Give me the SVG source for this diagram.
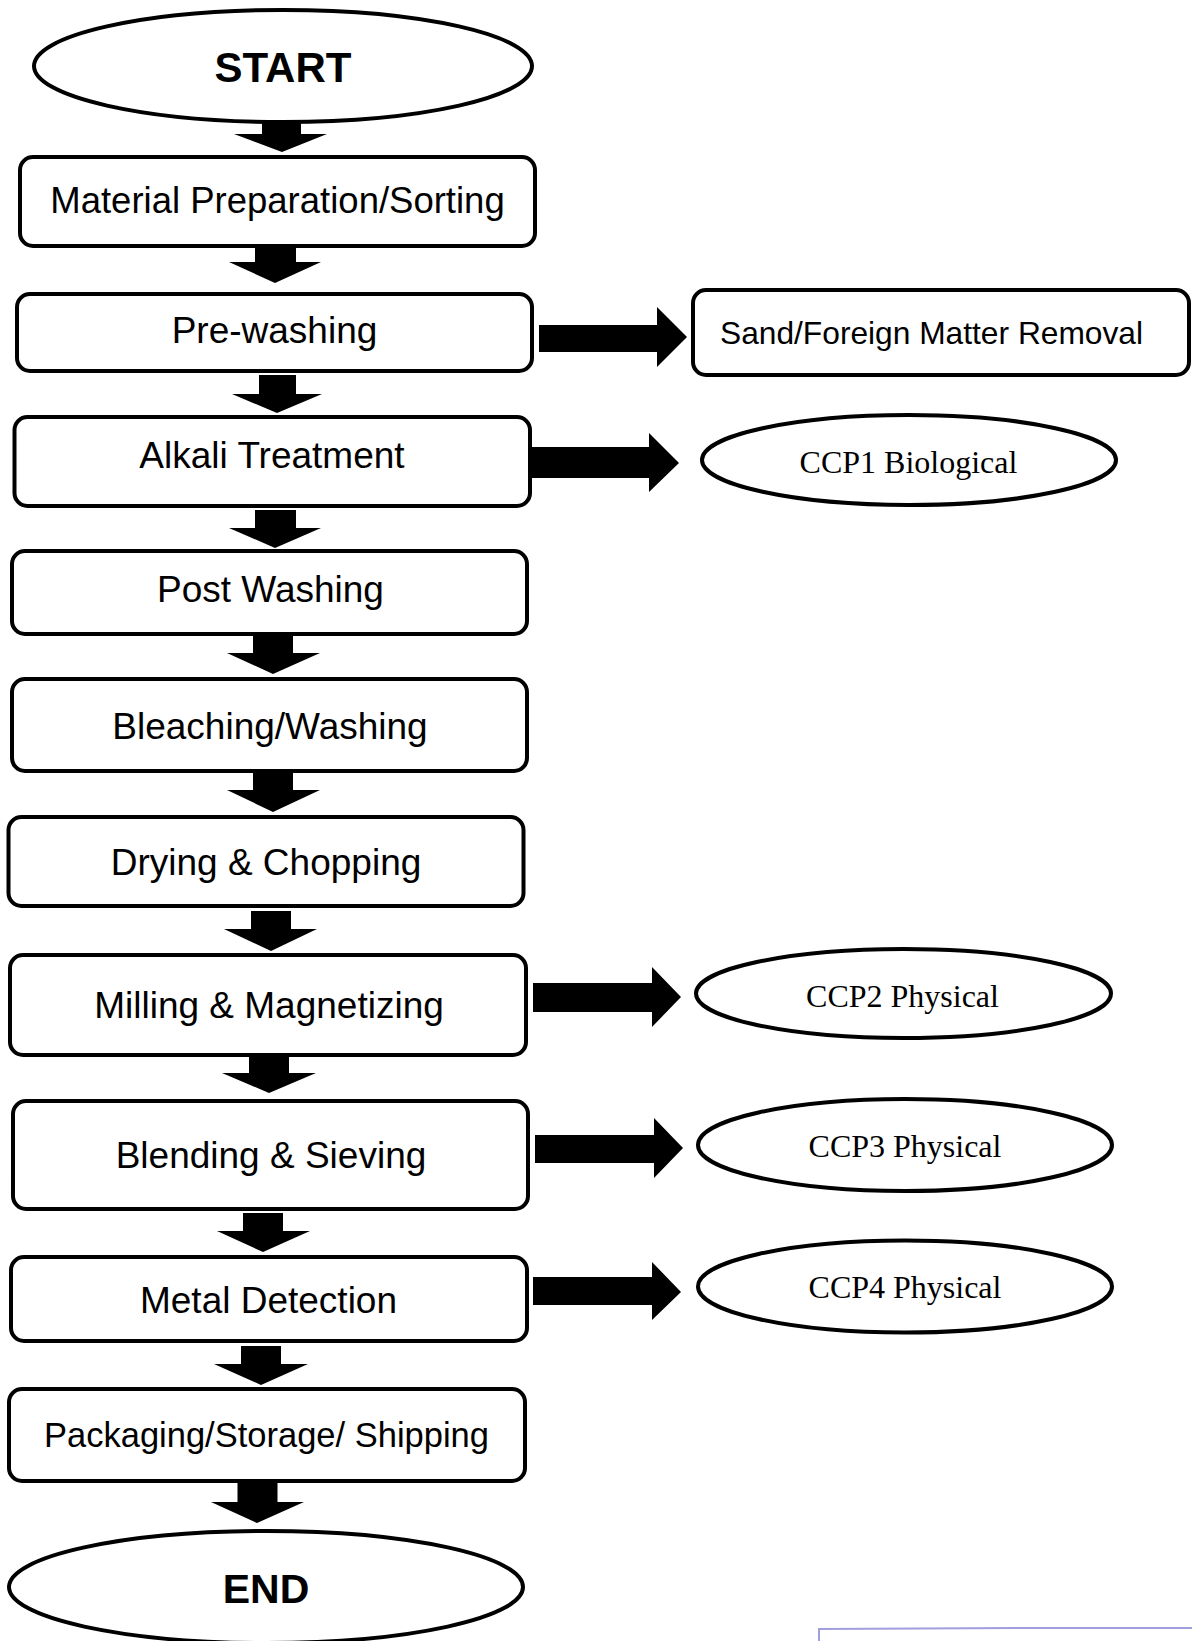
<svg xmlns="http://www.w3.org/2000/svg" width="1192" height="1641" viewBox="0 0 1192 1641">
<style>
.box{fill:#fff;stroke:#000;stroke-width:4}
.oval{fill:#fff;stroke:#000;stroke-width:4}
.t{font-family:"Liberation Sans",Arial,sans-serif;font-size:37px;fill:#000;text-anchor:middle}
.tb{font-family:"Liberation Sans",Arial,sans-serif;font-weight:bold;fill:#000;text-anchor:middle}
.ts{font-family:"Liberation Serif","Times New Roman",serif;font-size:32px;fill:#000;text-anchor:middle}
.arr{fill:#000;stroke:none}
</style>
<rect width="1192" height="1641" fill="#fff"/>
<g id="connectors">
<polygon class="arr" points="262,116 301,116 301,134 327,134 282,152 234,134 262,134"/>
<polygon class="arr" points="255,247 296,247 296,262 321,262 275,283 229,262 255,262"/>
<polygon class="arr" points="259,375 296,375 296,394 322,394 277,413 232,394 259,394"/>
<polygon class="arr" points="255,510 296,510 296,528 321,528 275,548 229,528 255,528"/>
<polygon class="arr" points="253,635 293,635 293,653 320,653 273,674 227,653 253,653"/>
<polygon class="arr" points="253,773 293,773 293,790 320,790 273,812 227,790 253,790"/>
<polygon class="arr" points="251,911 291,911 291,929 317,929 271,951 224,929 251,929"/>
<polygon class="arr" points="249,1056 289,1056 289,1073 316,1073 269,1093 222,1073 249,1073"/>
<polygon class="arr" points="243,1213 283,1213 283,1231 310,1231 263,1252 217,1231 243,1231"/>
<polygon class="arr" points="241,1346 281,1346 281,1364 308,1364 261,1385 214,1364 241,1364"/>
<polygon class="arr" points="237.5,1482 277.5,1482 277.5,1502 304,1502 257,1523 211,1502 237.5,1502"/>
<polygon class="arr" points="539,325 657,325 657,307 687,337 657,367 657,352 539,352"/>
<polygon class="arr" points="532,447 649,447 649,433 679,463 649,492 649,478 532,478"/>
<polygon class="arr" points="533,983 652,983 652,967 681,997 652,1027 652,1012 533,1012"/>
<polygon class="arr" points="535,1135 654,1135 654,1118 683,1148 654,1178 654,1163 535,1163"/>
<polygon class="arr" points="533,1277 652,1277 652,1262 681,1292 652,1320 652,1305 533,1305"/>
</g>
<g id="start"><ellipse class="oval" cx="283" cy="66" rx="249" ry="56"/><text class="tb" x="283" y="82" font-size="42">START</text></g>
<g id="material"><rect class="box" x="20" y="157" width="515" height="89" rx="13"/><text class="t" x="277.5" y="213" style="font-size:36.5px">Material Preparation/Sorting</text></g>
<g id="prewashing"><rect class="box" x="17" y="294" width="515" height="77" rx="13"/><text class="t" x="274.5" y="343">Pre-washing</text></g>
<g id="alkali"><rect class="box" x="14.5" y="417" width="515.5" height="89" rx="13"/><text class="t" x="272" y="468">Alkali Treatment</text></g>
<g id="postwashing"><rect class="box" x="12" y="551" width="515" height="83" rx="13"/><text class="t" x="270.5" y="602">Post Washing</text></g>
<g id="bleaching"><rect class="box" x="12" y="679" width="515" height="92" rx="13"/><text class="t" x="270" y="739">Bleaching/Washing</text></g>
<g id="drying"><rect class="box" x="8.5" y="817" width="515" height="89" rx="13"/><text class="t" x="266" y="875">Drying &amp; Chopping</text></g>
<g id="milling"><rect class="box" x="10" y="955" width="516" height="100" rx="13"/><text class="t" x="269" y="1018">Milling &amp; Magnetizing</text></g>
<g id="blending"><rect class="box" x="13" y="1101" width="515" height="108" rx="13"/><text class="t" x="271" y="1168">Blending &amp; Sieving</text></g>
<g id="metal"><rect class="box" x="11" y="1257" width="516" height="84" rx="13"/><text class="t" x="268.5" y="1313">Metal Detection</text></g>
<g id="packaging"><rect class="box" x="9" y="1389" width="516" height="92" rx="13"/><text class="t" x="266.5" y="1447" style="font-size:34.5px">Packaging/Storage/ Shipping</text></g>
<g id="end"><ellipse class="oval" cx="266" cy="1587" rx="257" ry="56"/><text class="tb" x="266" y="1603" font-size="41">END</text></g>
<g id="sand"><rect class="box" x="693" y="290" width="496" height="85" rx="13"/><text x="720" y="344" font-family="Liberation Sans, Arial, sans-serif" font-size="32" textLength="423" lengthAdjust="spacingAndGlyphs">Sand/Foreign Matter Removal</text></g>
<g id="ccp1"><ellipse class="oval" cx="909" cy="460" rx="207" ry="45"/><text class="ts" x="908.5" y="472.5">CCP1 Biological</text></g>
<g id="ccp2"><ellipse class="oval" cx="903.5" cy="993.5" rx="207.5" ry="44.5"/><text class="ts" x="902.5" y="1007">CCP2 Physical</text></g>
<g id="ccp3"><ellipse class="oval" cx="905" cy="1145" rx="207" ry="46"/><text class="ts" x="905" y="1157">CCP3 Physical</text></g>
<g id="ccp4"><ellipse class="oval" cx="905" cy="1286.5" rx="207" ry="46"/><text class="ts" x="905" y="1298">CCP4 Physical</text></g>
<g id="stamp"><polyline points="819,1641 819,1629 1020,1628 1192,1628" fill="none" stroke="#8a86d6" stroke-width="2" opacity="0.8"/></g>
</svg>
